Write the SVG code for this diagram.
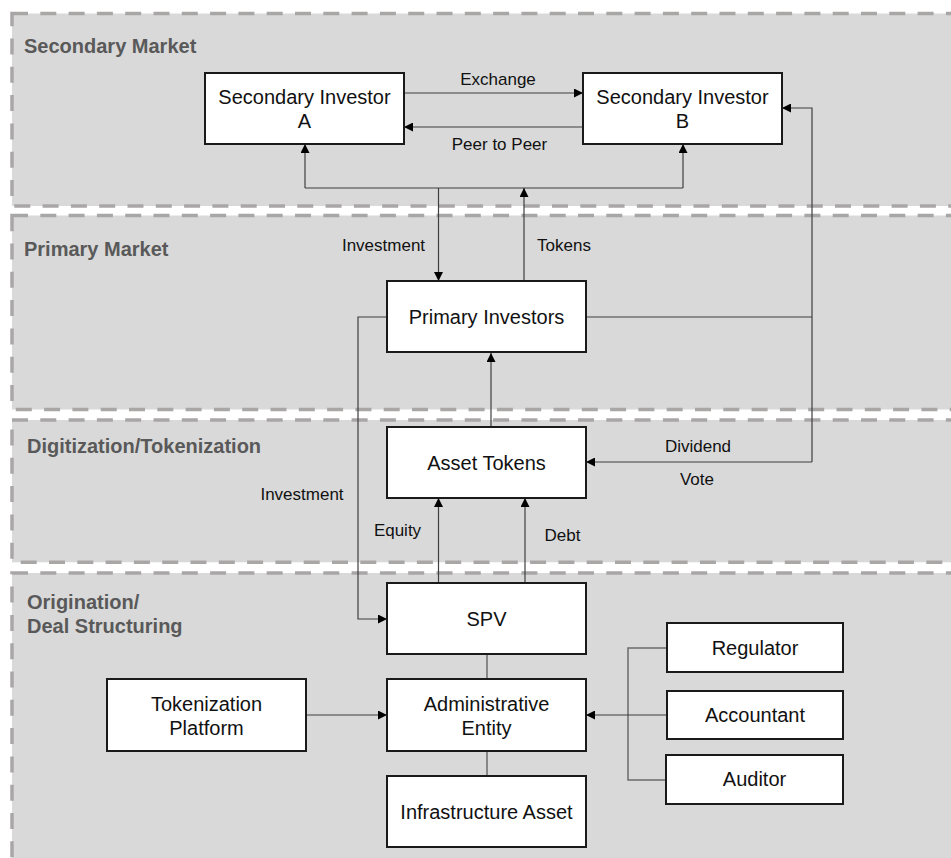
<svg xmlns="http://www.w3.org/2000/svg" width="951" height="858" viewBox="0 0 951 858">
<style>
.lane{fill:#d9d9d9;stroke:#a9a6a6;stroke-width:3.5;stroke-dasharray:16 12.3}
.title{font-family:"Liberation Sans",Arial,sans-serif;font-size:20px;font-weight:bold;fill:#595959}
.box{fill:#ffffff;stroke:#1a1a1a;stroke-width:2}
.t{font-family:"Liberation Sans",Arial,sans-serif;font-size:20px;fill:#111;text-anchor:middle}
.lbl{font-family:"Liberation Sans",Arial,sans-serif;font-size:17px;fill:#111;text-anchor:middle}
.c{fill:none;stroke:#3f3f3f;stroke-width:1.2}
.cg{fill:none;stroke:#6b6b6b;stroke-width:1.5}
.a{marker-end:url(#arr)}
</style>
<defs>
<marker id="arr" viewBox="0 0 9 9" refX="9" refY="4.5" markerWidth="9" markerHeight="9" markerUnits="userSpaceOnUse" orient="auto">
<path d="M0,0 L9,4.5 L0,9 z" fill="#000"/>
</marker>
</defs>
<rect width="951" height="858" fill="#ffffff"/>
<g id="lanes">
<g id="lane-secondary"><rect class="lane" x="12" y="13.5" width="960" height="192.5"/><text class="title" x="24" y="52.5">Secondary Market</text></g>
<g id="lane-primary"><rect class="lane" x="12" y="215.5" width="960" height="194"/><text class="title" x="24" y="256">Primary Market</text></g>
<g id="lane-digitization"><rect class="lane" x="12" y="420" width="960" height="142.3"/><text class="title" x="27" y="452.5">Digitization/Tokenization</text></g>
<g id="lane-origination"><rect class="lane" x="12" y="573" width="960" height="300"/><text class="title" x="27" y="609">Origination/</text><text class="title" x="27" y="632.5">Deal Structuring</text></g>
</g>
<g id="connectors">
<path class="c a" d="M404,93 H583"/>
<path class="c a" d="M583,127 H404"/>
<path class="c" d="M305,188 H683"/>
<path class="c a" d="M305,188 V144"/>
<path class="c a" d="M683,188 V144"/>
<path class="c a" d="M438.5,188 V281"/>
<path class="c a" d="M524,281 V188"/>
<path class="c" d="M586,317 H812"/>
<path class="c a" d="M812,462 V108 H782"/>
<path class="c a" d="M812,462 H586"/>
<path class="c a" d="M387,317 H358 V619 H387"/>
<path class="c a" d="M491,427 V353"/>
<path class="c a" d="M438.5,583 V498"/>
<path class="c a" d="M525,583 V498"/>
<path class="cg" d="M487,654 V679"/>
<path class="cg" d="M487,751 V776"/>
<path class="c a" d="M306,715 H387"/>
<path class="cg" d="M667,648 H628 V780 H666"/>
<path class="c a" d="M667,715 H586"/>
</g>
<g id="labels">
<text class="lbl" x="498" y="85">Exchange</text>
<text class="lbl" x="499.5" y="149.5">Peer to Peer</text>
<text class="lbl" x="383.5" y="250.5">Investment</text>
<text class="lbl" x="564" y="250.5">Tokens</text>
<text class="lbl" x="698" y="452">Dividend</text>
<text class="lbl" x="697" y="485">Vote</text>
<text class="lbl" x="302" y="500">Investment</text>
<text class="lbl" x="397.5" y="536">Equity</text>
<text class="lbl" x="562.5" y="540.5">Debt</text>
</g>
<g id="node-sec-a"><rect class="box" x="205" y="73" width="199" height="71"/><text class="t" x="304.5" y="103.5">Secondary Investor</text><text class="t" x="304.5" y="128">A</text></g>
<g id="node-sec-b"><rect class="box" x="583" y="73" width="199" height="71"/><text class="t" x="682.5" y="103.5">Secondary Investor</text><text class="t" x="682.5" y="128">B</text></g>
<g id="node-primary"><rect class="box" x="387" y="281" width="199" height="71"/><text class="t" x="486.5" y="323.5">Primary Investors</text></g>
<g id="node-tokens"><rect class="box" x="387" y="427" width="199" height="71"/><text class="t" x="486.5" y="470">Asset Tokens</text></g>
<g id="node-spv"><rect class="box" x="387" y="583" width="199" height="71"/><text class="t" x="486.5" y="625.5">SPV</text></g>
<g id="node-admin"><rect class="box" x="387" y="679" width="199" height="72"/><text class="t" x="486.5" y="710.5">Administrative</text><text class="t" x="486.5" y="735">Entity</text></g>
<g id="node-infra"><rect class="box" x="387" y="776" width="199" height="71"/><text class="t" x="486.5" y="819">Infrastructure Asset</text></g>
<g id="node-platform"><rect class="box" x="107" y="679" width="199" height="72"/><text class="t" x="206.5" y="710.5">Tokenization</text><text class="t" x="206.5" y="735">Platform</text></g>
<g id="node-regulator"><rect class="box" x="667" y="623" width="176" height="49"/><text class="t" x="755" y="655">Regulator</text></g>
<g id="node-accountant"><rect class="box" x="667" y="691" width="176" height="48"/><text class="t" x="755" y="722">Accountant</text></g>
<g id="node-auditor"><rect class="box" x="666" y="755" width="177" height="49"/><text class="t" x="754.5" y="786">Auditor</text></g>
</svg>
